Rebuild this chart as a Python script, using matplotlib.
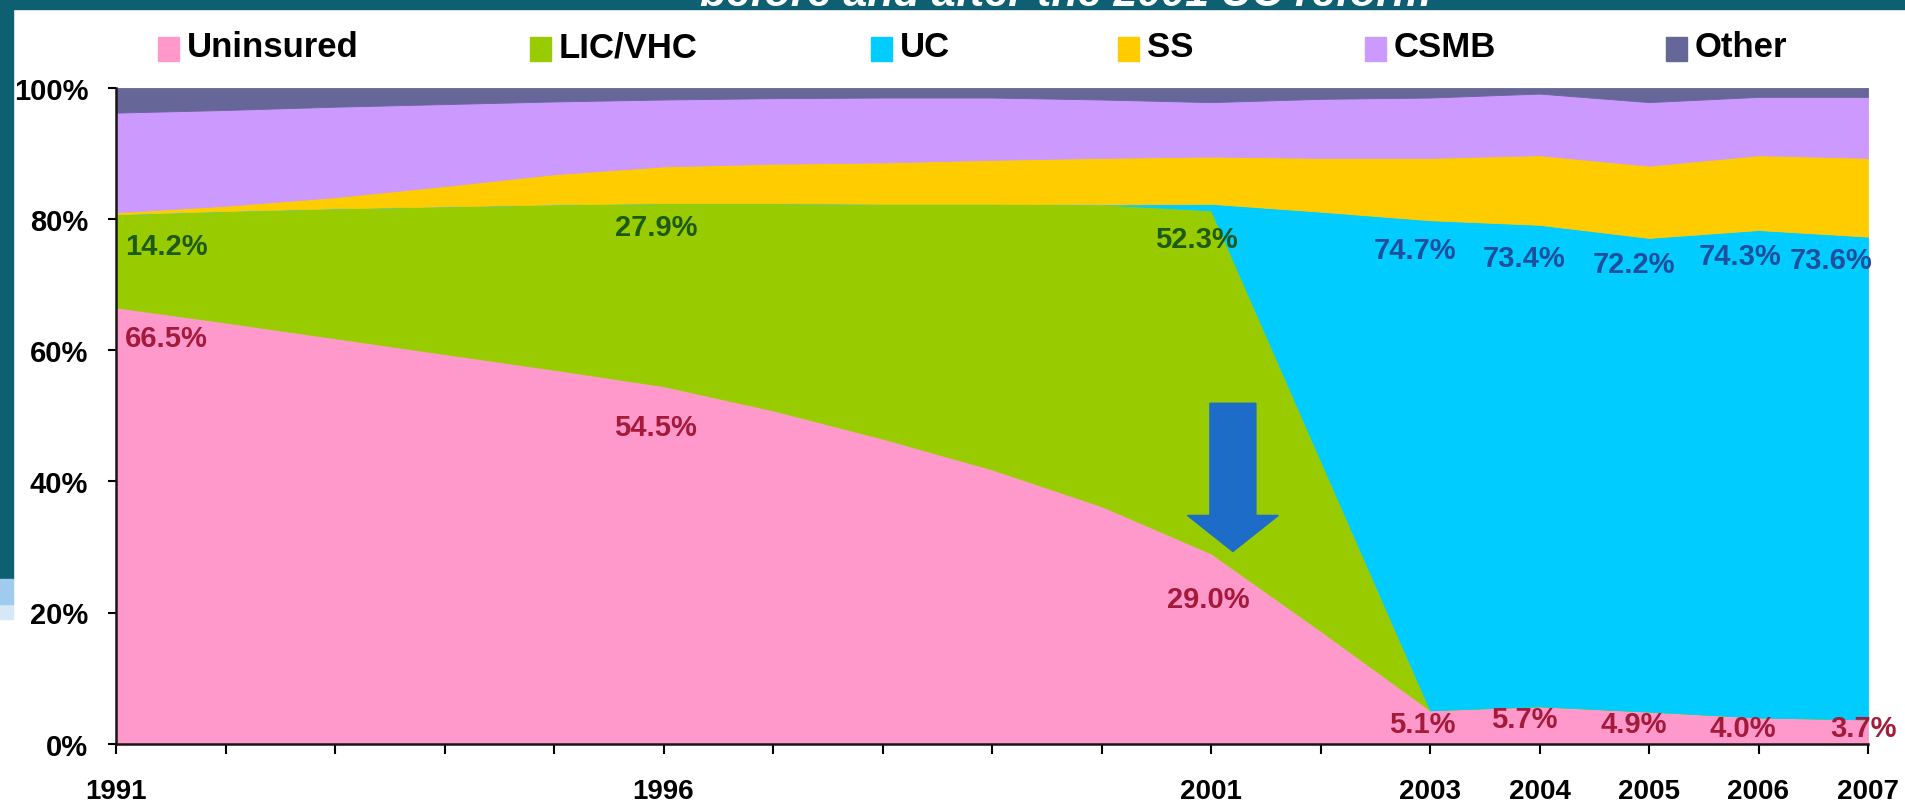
import numpy as np
import matplotlib
matplotlib.use('Agg')
import matplotlib.pyplot as plt
from matplotlib.patches import FancyArrow, Rectangle

plt.rcParams['font.family'] = ['Liberation Sans', 'DejaVu Sans']
plt.rcParams['font.weight'] = 'bold'

# данные (доли населения, %)
years = [1991, 1992, 1993, 1994, 1995, 1996, 1997, 1998, 1999, 2000,
         2001, 2002, 2003, 2004, 2005, 2006, 2007]
uninsured = [66.5, 64.2, 61.8, 59.4, 57.0, 54.5, 50.8, 46.5, 41.8, 36.2,
             29.0, 17.2, 5.1, 5.7, 4.9, 4.0, 3.7]
lic_vhc = [14.2, 17.0, 19.8, 22.5, 25.2, 27.9, 31.6, 35.8, 40.5, 46.0,
           52.3, 26.0, 0, 0, 0, 0, 0]
uc = [0, 0, 0, 0, 0, 0, 0, 0, 0, 0,
      1.0, 37.9, 74.7, 73.4, 72.2, 74.3, 73.6]
ss = [0.3, 0.8, 1.7, 3.1, 4.6, 5.6, 6.0, 6.3, 6.7, 7.1,
      7.2, 8.2, 9.5, 10.6, 11.0, 11.4, 12.0]
csmb = [15.2, 14.6, 13.8, 12.5, 11.1, 10.2, 10.0, 9.9, 9.5, 8.9,
        8.3, 9.0, 9.2, 9.4, 9.7, 8.9, 9.3]
other = [3.8, 3.4, 2.9, 2.5, 2.1, 1.8, 1.6, 1.5, 1.5, 1.8,
         2.2, 1.7, 1.5, 0.9, 2.2, 1.4, 1.4]

series_names = ['Uninsured', 'LIC/VHC', 'UC', 'SS', 'CSMB', 'Other']
colors = ['#ff99cc', '#99cc00', '#00ccff', '#ffcc00', '#cc99ff', '#666699']

year_labels = [1991, 1996, 2001, 2003, 2004, 2005, 2006, 2007]
title = 'before and after the 2001 UC reform'

# подписи значений: (ряд, год, позиция x, позиция y, цвет, выравнивание)
labels = [
    (uninsured, 1991, 1991.08, 61.8, '#a31a3a', 'left'),
    (uninsured, 1996, 1995.93, 48.3, '#a31a3a', 'center'),
    (uninsured, 2001, 2000.98, 22.0, '#a31a3a', 'center'),
    (uninsured, 2003, 2002.93, 3.0, '#a31a3a', 'center'),
    (uninsured, 2004, 2003.86, 3.7, '#a31a3a', 'center'),
    (uninsured, 2005, 2004.86, 3.0, '#a31a3a', 'center'),
    (uninsured, 2006, 2005.86, 2.4, '#a31a3a', 'center'),
    (uninsured, 2007, 2006.96, 2.4, '#a31a3a', 'center'),
    (lic_vhc, 1991, 1991.08, 75.9, '#1d5a17', 'left'),
    (lic_vhc, 1996, 1995.93, 78.7, '#1d5a17', 'center'),
    (lic_vhc, 2001, 2000.87, 77.0, '#1d5a17', 'center'),
    (uc, 2003, 2002.86, 75.2, '#1f4f9c', 'center'),
    (uc, 2004, 2003.86, 74.1, '#1f4f9c', 'center'),
    (uc, 2005, 2004.86, 73.1, '#1f4f9c', 'center'),
    (uc, 2006, 2005.83, 74.3, '#1f4f9c', 'center'),
    (uc, 2007, 2006.66, 73.7, '#1f4f9c', 'center'),
]

fig = plt.figure(figsize=(19.05, 8.03), dpi=100)
W, H = 1905, 803

# рамка слайда
fig.patches.append(Rectangle((0, 1 - 10 / H), 1, 10 / H, transform=fig.transFigure,
                             color='#0e5f72', zorder=-1))
fig.patches.append(Rectangle((0, 1 - 580 / H), 13 / W, 580 / H, transform=fig.transFigure,
                             color='#0e5f72', zorder=-1))
fig.patches.append(Rectangle((0, 1 - 620 / H), 13 / W, 15 / H, transform=fig.transFigure,
                             color='#d4e8f8', zorder=-1))
fig.patches.append(Rectangle((0, 1 - 605 / H), 13 / W, 25 / H, transform=fig.transFigure,
                             color='#9fcbee', zorder=-1))
fig.text(1066 / W, 1 - 6 / H, title, color='white', fontsize=31, style='italic',
         fontweight='bold', ha='center', va='baseline')

ax = fig.add_axes([116 / W, 1 - 744.7 / H, 1752 / W, 656 / H])
polys = ax.stackplot(years, uninsured, lic_vhc, uc, ss, csmb, other, colors=colors)
for p, c in zip(polys, colors):
    p.set_edgecolor(c)
    p.set_linewidth(0.6)

ax.set_xlim(1991, 2007)
ax.set_ylim(0, 100)
ax.set_xticks(years)
ax.set_xticklabels([str(y) if y in year_labels else '' for y in years])
ax.set_yticks([0, 20, 40, 60, 80, 100])
ax.set_yticklabels(['0%', '20%', '40%', '60%', '80%', '100%'])
ax.tick_params(axis='x', length=7, width=1.5, pad=18, labelsize=20)
ax.tick_params(axis='y', length=6, width=1.5, pad=14, labelsize=21)
for s in ['top', 'right']:
    ax.spines[s].set_visible(False)
for s in ['left', 'bottom']:
    ax.spines[s].set_linewidth(1.8)
    ax.spines[s].set_color('#1a1414')
    ax.spines[s].set_zorder(5)

# стрелка
ax.add_patch(FancyArrow(2001.2, 51.9, 0, -22.6, width=0.42, head_width=0.83,
                        head_length=5.5, length_includes_head=True,
                        color='#1c6cc8', zorder=4))

for ser, yr, lx, ly, col, ha in labels:
    v = ser[years.index(yr)]
    ax.text(lx, ly, f'{v:.1f}%', color=col, fontsize=21, ha=ha, va='center', zorder=6)

# легенда
leg_x = [158, 530, 871, 1118, 1365, 1666]
for name, col, lx in zip(series_names, colors, leg_x):
    fig.patches.append(Rectangle((lx / W, 1 - 62 / H), 21 / W, 24 / H,
                                 transform=fig.transFigure, color=col))
    fig.text((lx + 29) / W, 1 - 57 / H, name, fontsize=25, ha='left', va='baseline')

fig.savefig('out.png', dpi=100)
